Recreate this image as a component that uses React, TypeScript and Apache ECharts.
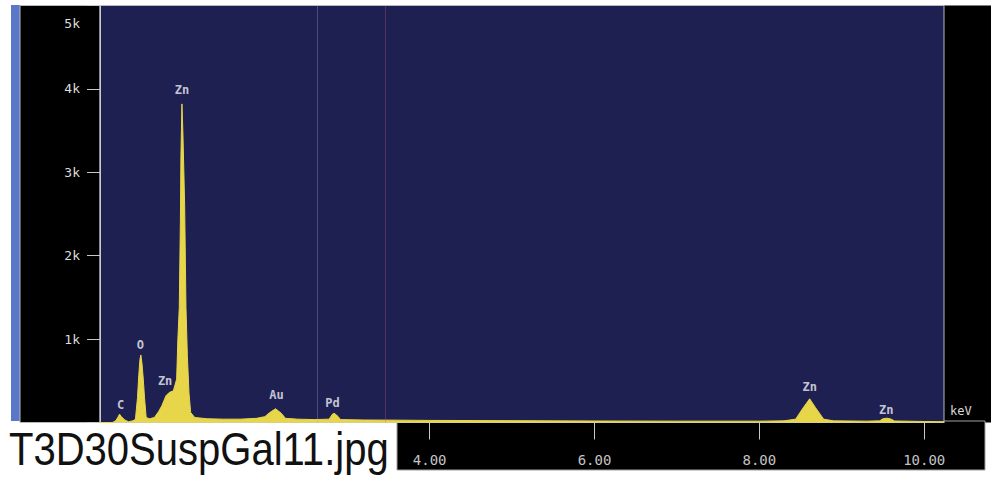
import React, { useEffect, useRef } from "react";
import * as echarts from "echarts";

// Spectrum: energy (keV) and counts
const energyKeV = [
  0.0, 0.15, 0.19, 0.215, 0.237, 0.26, 0.3, 0.345, 0.4, 0.43, 0.455, 0.47, 0.485, 0.496, 0.51, 0.525,
  0.54, 0.56, 0.6, 0.66, 0.71, 0.75, 0.8, 0.84, 0.89, 0.93, 0.945, 0.962, 0.975, 0.982, 0.994, 1.005,
  1.015, 1.027, 1.043, 1.06, 1.08, 1.1, 1.15, 1.3, 1.5, 1.7, 1.9, 2.0, 2.06, 2.13, 2.2, 2.25, 2.4, 2.6,
  2.78, 2.82, 2.84, 2.87, 2.92, 3.2, 3.6, 4.0, 5.0, 6.0, 7.0, 8.0, 8.3, 8.44, 8.52, 8.61, 8.68, 8.78,
  8.9, 9.3, 9.46, 9.5, 9.55, 9.6, 9.64, 10.0, 10.24,
];
const counts = [
  0, 0, 20, 60, 100, 70, 30, 10, 20, 40, 300, 560, 760, 810, 700, 520,
  300, 60, 45, 60, 130, 200, 320, 360, 380, 520, 1000, 1380, 2400, 3200, 3820, 3500,
  3100, 2600, 1380, 800, 350, 120, 60, 45, 40, 40, 50, 70, 120, 165, 110, 50, 40, 35,
  40, 100, 110, 90, 35, 30, 28, 25, 22, 18, 16, 16, 20, 40, 160, 284, 180, 40,
  20, 16, 20, 45, 52, 40, 18, 12, 10,
];

// Peak labels: element, energy (keV), label height (counts)
const peakNames = ["C", "O", "Zn", "Zn", "Au", "Pd", "Zn", "Zn"];
const peakKeV = [0.25, 0.49, 0.79, 0.995, 2.14, 2.82, 8.61, 9.54];
const peakLabelY = [215, 935, 500, 3990, 335, 230, 430, 145];

// Axis ticks
const yTicks = [0, 1000, 2000, 3000, 4000, 5000];
const xTickValues = [4, 6, 8, 10];
const cursorLines = [2.63, 3.46];

const fileName = "T3D30SuspGal11.jpg";
const unitLabel = "keV";

export default function App() {
  const ref = useRef<HTMLDivElement>(null);
  useEffect(() => {
    if (!ref.current) return;
    const chart = echarts.init(ref.current, undefined, { renderer: "svg" });
    const lineData = energyKeV.map((e, i) => [e, counts[i]]);
    const labelData = peakNames.map((n, i) => ({ name: n, value: [peakKeV[i], peakLabelY[i]] }));
    const mono = "DejaVu Sans Mono";
    chart.setOption({
      animation: false,
      backgroundColor: "#ffffff",
      grid: {
        left: 100,
        right: 47,
        top: 5.5,
        bottom: 58.5,
        containLabel: false,
        outerBoundsMode: "none",
        show: true,
        backgroundColor: "#1f2052",
        borderColor: "#b8b8c0",
        borderWidth: 1,
      },
      xAxis: {
        type: "value",
        min: 0,
        max: 10.24,
        splitLine: { show: false },
        axisLine: { show: true, lineStyle: { color: "#c8c8c8", width: 1 } },
        axisTick: {
          show: true,
          customValues: xTickValues,
          length: 17,
          lineStyle: { color: "#c8c8c8" },
        },
        axisLabel: {
          customValues: xTickValues,
          margin: 30,
          color: "#c4c4c4",
          fontFamily: mono,
          fontSize: 14,
          formatter: (v: number) => v.toFixed(2),
        },
      },
      yAxis: {
        type: "value",
        min: yTicks[0],
        max: yTicks[yTicks.length - 1],
        interval: 1000,
        splitLine: { show: false },
        axisLine: { show: true, lineStyle: { color: "#c8c8c8" } },
        axisTick: { show: true, length: 13, lineStyle: { color: "#c8c8c8" } },
        axisLabel: {
          margin: 20,
          color: "#dcdcdc",
          fontFamily: mono,
          fontSize: 13,
          lineHeight: 12,
          formatter: (v: number) => (v === 0 ? "" : v === 5000 ? "\n\n\n5k" : v / 1000 + "k"),
        },
      },
      series: [
        {
          type: "line",
          data: lineData,
          symbol: "none",
          lineStyle: { color: "#e8d64a", width: 1 },
          itemStyle: { color: "#e8d64a" },
          areaStyle: { color: "#e8d64a", opacity: 1 },
          markLine: {
            silent: true,
            symbol: "none",
            label: { show: false },
            data: [
              { xAxis: cursorLines[0], lineStyle: { color: "rgba(150,170,210,0.35)", type: "solid", width: 1 } },
              { xAxis: cursorLines[1], lineStyle: { color: "rgba(190,90,120,0.35)", type: "solid", width: 1 } },
            ],
          },
          z: 2,
        },
        {
          type: "scatter",
          data: labelData,
          symbolSize: 0,
          label: {
            show: true,
            position: "inside",
            formatter: (p: any) => p.name,
            color: "#f0f0f4",
            fontFamily: mono,
            fontWeight: "bold",
            fontSize: 12,
          },
          z: 5,
        },
      ],
      graphic: [
        { type: "rect", z: -10, shape: { x: 11, y: 5, width: 9, height: 416 }, style: { fill: "#5a78c8" } },
        { type: "rect", z: -9, shape: { x: 20, y: 5.5, width: 80, height: 417 }, style: { fill: "#000000", stroke: "#b8b8c0", lineWidth: 1 } },
        { type: "rect", z: -9, shape: { x: 944, y: 5.5, width: 47, height: 417 }, style: { fill: "#000000" } },
        { type: "rect", z: -9, shape: { x: 397, y: 421, width: 588, height: 49 }, style: { fill: "#000000", stroke: "#a0a0a0", lineWidth: 1 } },
        {
          type: "text",
          z: 10,
          x: 950,
          y: 411,
          style: { text: unitLabel, fill: "#d8d8d8", font: `12px "${mono}"`, verticalAlign: "middle", align: "left" },
        },
        {
          type: "text",
          z: 10,
          x: 9,
          y: 426,
          scaleX: 0.87,
          style: { text: fileName, fill: "#111111", font: '46px "Liberation Sans"', verticalAlign: "top", align: "left" },
        },
      ],
    });
    return () => chart.dispose();
  }, []);
  return (
    <div
      ref={ref}
      style={{ position: "absolute", left: 0, top: 0, width: 991, height: 481, background: "#ffffff" }}
    />
  );
}
